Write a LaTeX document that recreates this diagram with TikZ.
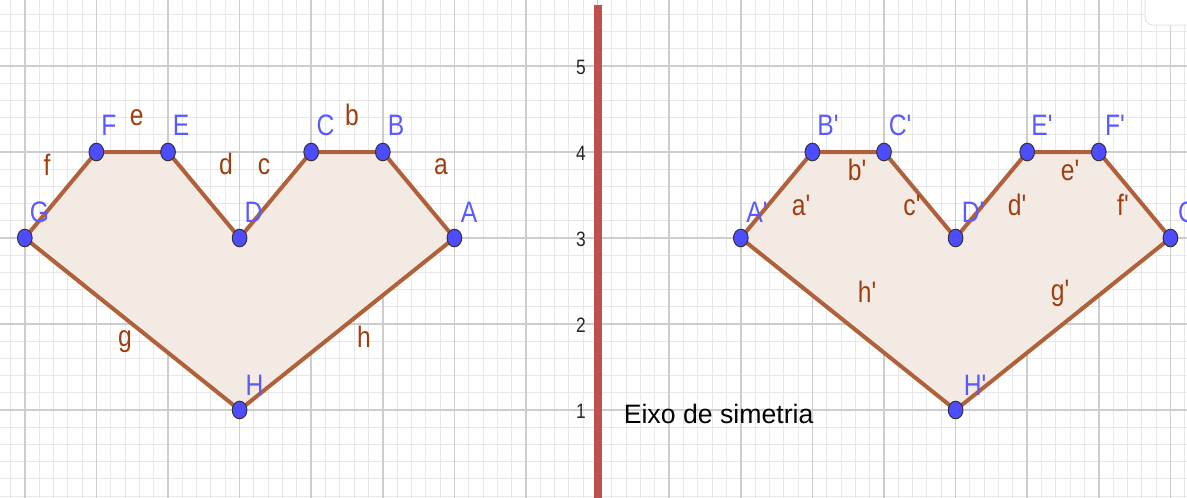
\documentclass[tikz,border=0pt]{standalone}
\usepackage{fontspec}
\setmainfont{Liberation Sans}
\usetikzlibrary{shapes.geometric}
\definecolor{ptblue}{HTML}{4D4DFF}
\definecolor{lblblue}{HTML}{5A5AFF}
\definecolor{edgebrown}{HTML}{B0603A}
\definecolor{txtbrown}{HTML}{9E3F10}
\definecolor{heartfill}{HTML}{F4EAE4}
\definecolor{axisred}{HTML}{C0504D}
\definecolor{majorgrid}{HTML}{CDCDCD}
\definecolor{minorgrid}{HTML}{E8E8E8}
\newcommand\stretchy[1]{\scalebox{1}[1.2]{#1}}
\newcommand\pq{\textquotesingle}
\begin{document}
\begin{tikzpicture}[x=0.75pt,y=-0.75pt,
  minorline/.style={draw=minorgrid, line width=0.75pt},
  majorline/.style={draw=majorgrid, line width=1.1pt},
  heart/.style={fill=heartfill, draw=edgebrown, line width=3pt, line join=round},
  pt/.style={ellipse, fill=ptblue, draw=black!80, line width=0.75pt, minimum width=11pt, minimum height=13.2pt, inner sep=0pt},
  ptlabel/.style={text=lblblue, anchor=base, inner sep=0pt, font=\fontsize{18.5}{21}\selectfont},
  seglabel/.style={text=txtbrown, anchor=base, inner sep=0pt, font=\fontsize{18.5}{21}\selectfont},
  ticklabel/.style={text=black!85, anchor=base, inner sep=0pt, font=\fontsize{13}{15}\selectfont},
  caption/.style={text=black, anchor=base west, inner sep=0pt, font=\fontsize{20}{23}\selectfont}]
\useasboundingbox (0,0) rectangle (1187,497);
\clip (0,0) rectangle (1187,497);
\fill[white] (0,0) rectangle (1187,497);
% grid
\foreach \i in {-42,...,42} \draw[minorline] ({597.6+14.32*\i},-5) -- ({597.6+14.32*\i},505);
\foreach \j in {0,...,29} \draw[minorline] (-5,{496-17.2*\j}) -- (1195,{496-17.2*\j});
\foreach \k in {-8,...,8} \draw[majorline] ({597.6+71.6*\k},-5) -- ({597.6+71.6*\k},505);
\foreach \k in {1,...,5} \draw[majorline] (-5,{496-86*\k}) -- (1195,{496-86*\k});
% tick labels
\foreach \k in {1,...,5} \node[ticklabel] (t\k) at (581,{496-86*\k+8.3}) {\stretchy{\k}};
% left heart
\coordinate (A) at (454.4,238);
\coordinate (B) at (382.8,152);
\coordinate (C) at (311.2,152);
\coordinate (D) at (239.6,238);
\coordinate (E) at (168.0,152);
\coordinate (F) at (96.4,152);
\coordinate (G) at (24.8,238);
\coordinate (H) at (239.6,410);
\filldraw[heart] (A) -- (B) -- (C) -- (D) -- (E) -- (F) -- (G) -- (H) -- cycle;
% right heart
\coordinate (A2) at (740.8,238);
\coordinate (B2) at (812.4,152);
\coordinate (C2) at (884.0,152);
\coordinate (D2) at (955.6,238);
\coordinate (E2) at (1027.2,152);
\coordinate (F2) at (1098.8,152);
\coordinate (G2) at (1170.4,238);
\coordinate (H2) at (955.6,410);
\filldraw[heart] (A2) -- (B2) -- (C2) -- (D2) -- (E2) -- (F2) -- (G2) -- (H2) -- cycle;
% axis of symmetry
\draw[axisred, line width=6pt] (598,5) -- (598,505);
% points
\foreach \p in {A,B,C,D,E,F,G,H,A2,B2,C2,D2,E2,F2,G2,H2} \node[pt] (p\p) at (\p) {};
% left labels
\node[ptlabel] (lF) at (109,135) {\stretchy{F}};
\node[ptlabel] (lE) at (181,135) {\stretchy{E}};
\node[ptlabel] (lG) at (39.5,222) {\stretchy{G}};
\node[ptlabel] (lD) at (253.5,222) {\stretchy{D}};
\node[ptlabel] (lC) at (325.5,135) {\stretchy{C}};
\node[ptlabel] (lB) at (396,135) {\stretchy{B}};
\node[ptlabel] (lA) at (469,222) {\stretchy{A}};
\node[ptlabel] (lH) at (254.5,395) {\stretchy{H}};
\node[seglabel] (sf) at (47,175) {\stretchy{f}};
\node[seglabel] (se) at (136.7,125) {\stretchy{e}};
\node[seglabel] (sd) at (226,174) {\stretchy{d}};
\node[seglabel] (sc) at (264,174) {\stretchy{c}};
\node[seglabel] (sb) at (352,125) {\stretchy{b}};
\node[seglabel] (sa) at (441,174) {\stretchy{a}};
\node[seglabel] (sg) at (125,346) {\stretchy{g}};
\node[seglabel] (sh) at (364,347) {\stretchy{h}};
% right labels
\node[ptlabel] (lA2) at (757,222) {\stretchy{A\pq}};
\node[ptlabel] (lB2) at (828,135) {\stretchy{B\pq}};
\node[ptlabel] (lC2) at (900,135) {\stretchy{C\pq}};
\node[ptlabel] (lD2) at (973,222) {\stretchy{D\pq}};
\node[ptlabel] (lE2) at (1042,135) {\stretchy{E\pq}};
\node[ptlabel] (lF2) at (1115,135) {\stretchy{F\pq}};
\node[ptlabel] (lG2) at (1190,222) {\stretchy{G\pq}};
\node[ptlabel] (lH2) at (975,395) {\stretchy{H\pq}};
\node[seglabel] (sa2) at (801,215) {\stretchy{a\pq}};
\node[seglabel] (sb2) at (857,180) {\stretchy{b\pq}};
\node[seglabel] (sc2) at (912,215) {\stretchy{c\pq}};
\node[seglabel] (sd2) at (1017,215) {\stretchy{d\pq}};
\node[seglabel] (se2) at (1070,180) {\stretchy{e\pq}};
\node[seglabel] (sf2) at (1123,215) {\stretchy{f\pq}};
\node[seglabel] (sh2) at (867,302) {\stretchy{h\pq}};
\node[seglabel] (sg2) at (1060,300) {\stretchy{g\pq}};
% caption
\node[caption] (cap) at (623.5,423.3) {Eixo de simetria};
% corner widget
\draw[fill=white, draw=black!10, line width=0.75pt, rounded corners=6pt] (1145,-20) rectangle (1200,25);
\end{tikzpicture}
\end{document}
